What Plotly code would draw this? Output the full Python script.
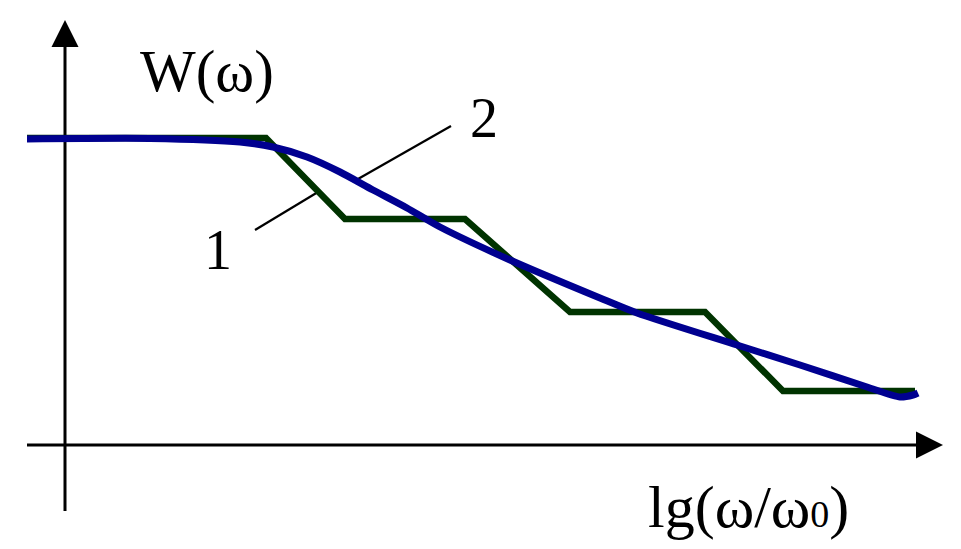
import plotly.graph_objects as go

# ---- data (x: lg(w/w0) units, y: W units) ----
step_x = [-0.38, 2.01, 2.80, 4.00, 5.05, 6.40, 7.18, 8.50]
step_y = [3.07, 3.07, 2.26, 2.26, 1.33, 1.33, 0.54, 0.54]

smooth_x = [-0.38, 0.85, 1.75, 2.08, 2.42, 2.75, 3.08, 3.42, 3.75, 4.45, 5.35, 5.72, 6.72, 7.35, 8.02, 8.35, 8.48, 8.53]
smooth_y = [3.06, 3.065, 3.03, 2.98, 2.88, 2.73, 2.55, 2.37, 2.18, 1.85, 1.47, 1.32, 1.00, 0.80, 0.58, 0.48, 0.50, 0.52]

# leader lines for labels 1 and 2
lead1_x = [1.90, 2.53]
lead1_y = [2.15, 2.53]
lead2_x = [2.93, 3.86]
lead2_y = [2.66, 3.19]

# axis extents
x_axis_start, x_axis_end = -0.38, 8.51
y_axis_start, y_axis_end = -0.66, 3.98
arrow_len, arrow_half = 0.27, 0.135

GREEN = "#003300"
BLUE = "#000090"
FONT = "Liberation Serif"

fig = go.Figure()

fig.add_trace(go.Scatter(x=lead1_x, y=lead1_y, mode="lines",
                         line=dict(color="black", width=2.2), hoverinfo="skip"))
fig.add_trace(go.Scatter(x=lead2_x, y=lead2_y, mode="lines",
                         line=dict(color="black", width=2.2), hoverinfo="skip"))
fig.add_trace(go.Scatter(x=step_x, y=step_y, mode="lines",
                         line=dict(color=GREEN, width=6.5), hoverinfo="skip"))
fig.add_trace(go.Scatter(x=smooth_x, y=smooth_y, mode="lines",
                         line=dict(color=BLUE, width=7, shape="spline", smoothing=0.7),
                         hoverinfo="skip"))

shapes = [
    dict(type="line", x0=x_axis_start, x1=x_axis_end, y0=0, y1=0,
         line=dict(color="black", width=3), layer="below"),
    dict(type="line", x0=0, x1=0, y0=y_axis_start, y1=y_axis_end,
         line=dict(color="black", width=3), layer="below"),
    dict(type="path",
         path=f"M {x_axis_end},{-arrow_half} L {x_axis_end + arrow_len},0 L {x_axis_end},{arrow_half} Z",
         fillcolor="black", line=dict(width=0)),
    dict(type="path",
         path=f"M {-arrow_half},{y_axis_end} L 0,{y_axis_end + arrow_len} L {arrow_half},{y_axis_end} Z",
         fillcolor="black", line=dict(width=0)),
]

annotations = [
    dict(x=1.42, y=3.74, text="W(ω)", showarrow=False,
         font=dict(family=FONT, size=59, color="black")),
    dict(x=6.83, y=-0.62, text="lg(ω/ω<span style='font-size:38px'>0</span>)", showarrow=False,
         font=dict(family=FONT, size=60, color="black")),
    dict(x=1.53, y=1.95, text="1", showarrow=False,
         font=dict(family=FONT, size=56, color="black")),
    dict(x=4.19, y=3.27, text="2", showarrow=False,
         font=dict(family=FONT, size=56, color="black")),
]

# page body adds an 8px offset; ranges compensate so that origin lands at (65, 445)
fig.update_layout(
    width=961, height=549,
    margin=dict(l=0, r=0, t=0, b=0),
    paper_bgcolor="white", plot_bgcolor="white",
    showlegend=False,
    xaxis=dict(range=[-0.57, 9.04], visible=False, fixedrange=True),
    yaxis=dict(range=[-1.12, 4.37], visible=False, fixedrange=True),
    shapes=shapes, annotations=annotations,
)

fig.write_html("out.html")
